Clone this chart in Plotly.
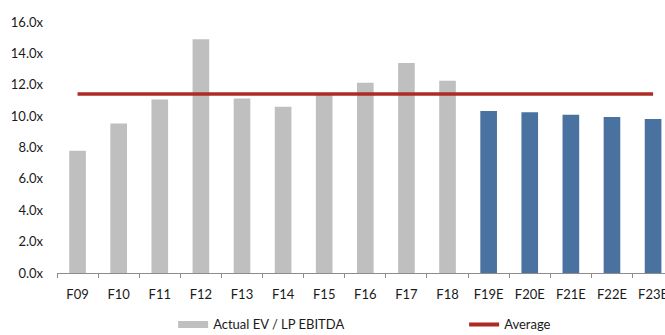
import plotly.graph_objects as go

# Fiscal-year multiples: actuals and estimates
actual_years = ["F09", "F10", "F11", "F12", "F13", "F14", "F15", "F16", "F17", "F18"]
actual_values = [7.8, 9.53, 11.06, 14.9, 11.13, 10.6, 11.4, 12.12, 13.38, 12.25]
estimate_years = ["F19E", "F20E", "F21E", "F22E", "F23E"]
estimate_values = [10.32, 10.25, 10.08, 9.94, 9.81]
y_ticks = [0, 2, 4, 6, 8, 10, 12, 14, 16]
y_tick_labels = [f"{v:.1f}x" for v in y_ticks]

all_years = actual_years + estimate_years
average_value = sum(actual_values) / len(actual_values)

GRAY = "#BFBFBF"
BLUE = "#4A72A0"
RED = "#AE2B25"
FONT = "Lato"

fig = go.Figure()
fig.add_trace(go.Bar(x=actual_years, y=actual_values, marker=dict(color=GRAY, line=dict(width=0)),
                     showlegend=False, name="Actual EV / LP EBITDA"))
fig.add_trace(go.Bar(x=estimate_years, y=estimate_values, marker=dict(color=BLUE, line=dict(width=0)),
                     showlegend=False, name="Estimate"))
fig.add_trace(go.Scatter(x=all_years, y=[average_value] * len(all_years), mode="lines",
                         line=dict(color=RED, width=3.5), showlegend=False, name="Average"))

# Legend entries: wide gray swatch and red line
fig.add_trace(go.Scatter(x=[None], y=[None], mode="lines", line=dict(color=GRAY, width=7),
                         name="Actual EV / LP EBITDA", legendwidth=246))
fig.add_trace(go.Scatter(x=[None], y=[None], mode="lines", line=dict(color=RED, width=4),
                         name="Average"))

fig.update_layout(
    width=665, height=335,
    margin=dict(l=57, r=0, t=22, b=62, autoexpand=False),
    paper_bgcolor="white", plot_bgcolor="white",
    barmode="overlay", bargap=0.595,
    font=dict(family=FONT, size=13, color="#1a1a1a"),
    legend=dict(orientation="h", x=0.191, xanchor="left", y=-0.205, yanchor="middle",
                font=dict(size=13), tracegroupgap=0, bgcolor="rgba(0,0,0,0)"),
)
fig.update_xaxes(
    type="category", categoryorder="array", categoryarray=all_years,
    range=[-0.5, 14.29], showgrid=False, showline=True, linecolor="#8C8C8C", linewidth=1,
    ticks="outside", tickson="boundaries", ticklen=4, tickcolor="#8C8C8C",
    ticklabelstandoff=9, tickfont=dict(size=13), fixedrange=True,
)
fig.update_yaxes(
    range=[0, 16], tickvals=y_ticks, ticktext=y_tick_labels, showgrid=False,
    showline=False, zeroline=False, ticks="", ticklabelstandoff=13,
    tickfont=dict(size=13), fixedrange=True,
)

fig.write_html("out.html")
